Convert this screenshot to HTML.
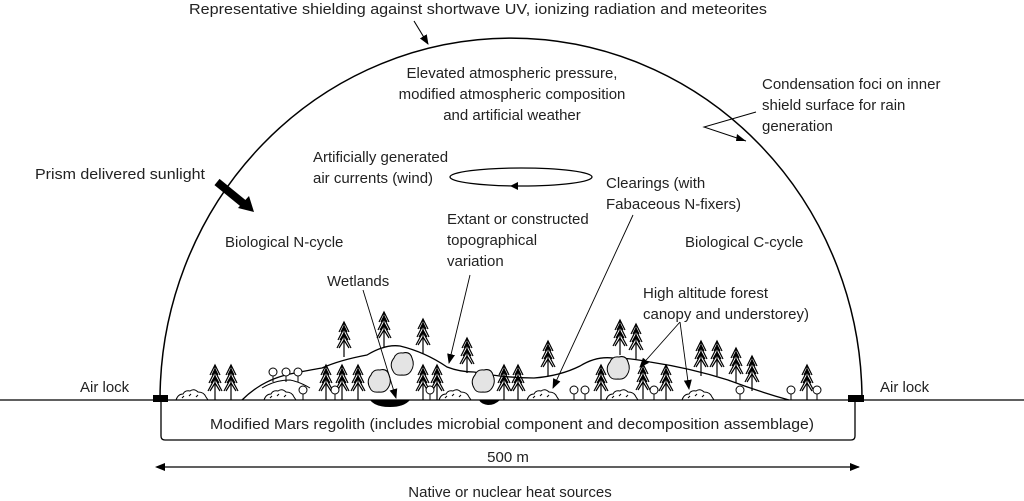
<!DOCTYPE html>
<html><head><meta charset="utf-8"><style>
html,body{margin:0;padding:0;background:#fff;}
svg{display:block;}
text{font-family:"Liberation Sans",sans-serif;font-size:15px;fill:#222;}
</style></head><body>
<svg width="1024" height="501" viewBox="0 0 1024 501" xmlns="http://www.w3.org/2000/svg">
<defs>
<marker id="ah" markerWidth="10" markerHeight="10" refX="9" refY="5" orient="auto" markerUnits="userSpaceOnUse">
<path d="M0,1 L10,5 L0,9 z" fill="#000"/></marker>
<g id="tree" stroke="#000" stroke-width="1.2" fill="none">
<line x1="0" y1="0" x2="0" y2="35"/>
<path d="M-5,10 L0,0 L5,10 M-6,18 L0,6 L6,18 M-7,26 L0,13 L7,26 M-3,10 L0,4 L3,10 M-4,18 L0,11 L4,18 M-5,26 L0,18 L5,26"/>
</g>
<g id="lol" stroke="#000" stroke-width="1" fill="#fff">
<line x1="0" y1="5" x2="0" y2="14"/><circle cx="0" cy="4" r="4"/>
</g>
<g id="cloud" stroke="#000" stroke-width="1" fill="#e4e4e4">
<path d="M-9,7 Q-13,0 -8,-6 Q-6,-12 1,-11 Q8,-13 10,-6 Q13,1 9,7 Q6,12 0,11 Q-7,12 -9,7 z"/>
</g>
<g id="shrub" stroke="#000" stroke-width="1" fill="none">
<path d="M-16,0 Q-14,-6 -9,-6 Q-7,-10 -2,-9 Q2,-12 6,-8 Q12,-8 14,-3 L16,0 M-10,-2 l2,-2 M-3,-4 l2,-2 M4,-3 l2,-2"/>
</g>
</defs>

<path d="M160,400 A351,362 0 0 1 862,400" fill="none" stroke="#000" stroke-width="1.5"/>
<line x1="0" y1="400" x2="1024" y2="400" stroke="#000" stroke-width="1.3"/>
<path d="M161,400 L161,436 Q161,440 165,440 L851,440 Q855,440 855,436 L855,400" fill="none" stroke="#000" stroke-width="1.3"/>
<rect x="153" y="395" width="15" height="7" fill="#000"/>
<rect x="848" y="395" width="16" height="7" fill="#000"/>

<path d="M242,400 Q262,380 290,374 Q310,370 322,368 Q340,360 367,355 Q385,344 400,346 Q425,352 447,367 Q460,372 474,372 Q505,378 534,378 Q560,376 580,366 Q596,356 613,358 Q630,358 650,362 Q690,368 728,380 Q760,392 789,400" fill="none" stroke="#000" stroke-width="1.3"/>
<path d="M262,388 Q275,380 290,380 Q300,382 310,388" fill="none" stroke="#000" stroke-width="1"/>
<path d="M370,400 L410,400 Q404,407 390,407 Q375,407 370,400 z" fill="#000"/>
<path d="M479,400 L500,400 Q495,405 488,405 Q481,404 479,400 z" fill="#000"/>

<use href="#tree" x="215" y="365"/><use href="#tree" x="231" y="365"/>
<use href="#tree" x="344" y="322"/><use href="#tree" x="384" y="312"/>
<use href="#tree" x="423" y="319"/><use href="#tree" x="467" y="338"/>
<use href="#tree" x="326" y="365"/><use href="#tree" x="342" y="365"/><use href="#tree" x="358" y="365"/>
<use href="#tree" x="423" y="365"/><use href="#tree" x="437" y="365"/>
<use href="#tree" x="504" y="365"/><use href="#tree" x="518" y="365"/>
<use href="#tree" x="548" y="341"/>
<use href="#tree" x="620" y="320"/><use href="#tree" x="636" y="324"/>
<use href="#tree" x="601" y="365"/><use href="#tree" x="643" y="364"/><use href="#tree" x="666" y="365"/>
<use href="#tree" x="701" y="341"/><use href="#tree" x="717" y="341"/>
<use href="#tree" x="736" y="348"/><use href="#tree" x="752" y="356"/>
<use href="#tree" x="807" y="365"/>
<use href="#lol" x="273" y="368"/><use href="#lol" x="286" y="368"/><use href="#lol" x="298" y="368"/>
<use href="#lol" x="303" y="386"/><use href="#lol" x="335" y="386"/><use href="#lol" x="430" y="386"/>
<use href="#lol" x="574" y="386"/><use href="#lol" x="585" y="386"/><use href="#lol" x="654" y="386"/>
<use href="#lol" x="740" y="386"/><use href="#lol" x="791" y="386"/><use href="#lol" x="817" y="386"/>
<use href="#cloud" x="402" y="364"/><use href="#cloud" x="379" y="381"/>
<use href="#cloud" x="483" y="381"/><use href="#cloud" x="618" y="368"/>
<use href="#shrub" x="192" y="400"/><use href="#shrub" x="280" y="400"/>
<use href="#shrub" x="455" y="400"/><use href="#shrub" x="543" y="400"/>
<use href="#shrub" x="622" y="400"/><use href="#shrub" x="698" y="400"/>

<line x1="414" y1="21" x2="428" y2="44" stroke="#000" stroke-width="1.1" marker-end="url(#ah)"/>
<polyline points="756,112 704,127 746,141" fill="none" stroke="#000" stroke-width="1"/>
<path d="M746,141 l-9,-7 l-1,7 z" fill="#000"/>
<line x1="217" y1="182" x2="244" y2="204" stroke="#000" stroke-width="8"/>
<path d="M254,212 L238,208 L249,196 z" fill="#000"/>
<ellipse cx="521" cy="177" rx="71" ry="9" fill="none" stroke="#000" stroke-width="1.3"/>
<path d="M510,186 L518,182 L518,190 z" fill="#000"/>
<line x1="363" y1="290" x2="396" y2="398" stroke="#000" stroke-width="0.9" marker-end="url(#ah)"/>
<line x1="470" y1="275" x2="449" y2="363" stroke="#000" stroke-width="0.9" marker-end="url(#ah)"/>
<line x1="633" y1="215" x2="553" y2="388" stroke="#000" stroke-width="0.9" marker-end="url(#ah)"/>
<line x1="680" y1="322" x2="640" y2="367" stroke="#000" stroke-width="0.9" marker-end="url(#ah)"/>
<line x1="680" y1="322" x2="689" y2="389" stroke="#000" stroke-width="0.9" marker-end="url(#ah)"/>
<line x1="160" y1="467" x2="859" y2="467" stroke="#000" stroke-width="1.2" marker-end="url(#ah)"/>
<path d="M155,467 L165,463 L165,471 z" fill="#000"/>

<text x="189" y="14" textLength="578" lengthAdjust="spacingAndGlyphs">Representative shielding against shortwave UV, ionizing radiation and meteorites</text>
<text x="512" y="78" text-anchor="middle">Elevated atmospheric pressure,</text>
<text x="512" y="99" text-anchor="middle">modified atmospheric composition</text>
<text x="512" y="120" text-anchor="middle">and artificial weather</text>
<text x="762" y="89">Condensation foci on inner</text>
<text x="762" y="110">shield surface for rain</text>
<text x="762" y="131">generation</text>
<text x="35" y="179" textLength="170" lengthAdjust="spacingAndGlyphs">Prism delivered sunlight</text>
<text x="313" y="162">Artificially generated</text>
<text x="313" y="183">air currents (wind)</text>
<text x="606" y="188">Clearings (with</text>
<text x="606" y="209">Fabaceous N-fixers)</text>
<text x="447" y="224">Extant or constructed</text>
<text x="447" y="245">topographical</text>
<text x="447" y="266">variation</text>
<text x="225" y="247">Biological N-cycle</text>
<text x="685" y="247">Biological C-cycle</text>
<text x="327" y="286">Wetlands</text>
<text x="643" y="298">High altitude forest</text>
<text x="643" y="319">canopy and understorey)</text>
<text x="80" y="392">Air lock</text>
<text x="880" y="392">Air lock</text>
<text x="512" y="429" text-anchor="middle" textLength="604" lengthAdjust="spacingAndGlyphs">Modified Mars regolith (includes microbial component and decomposition assemblage)</text>
<text x="508" y="462" text-anchor="middle">500 m</text>
<text x="510" y="497" text-anchor="middle">Native or nuclear heat sources</text>
</svg>
</body></html>
